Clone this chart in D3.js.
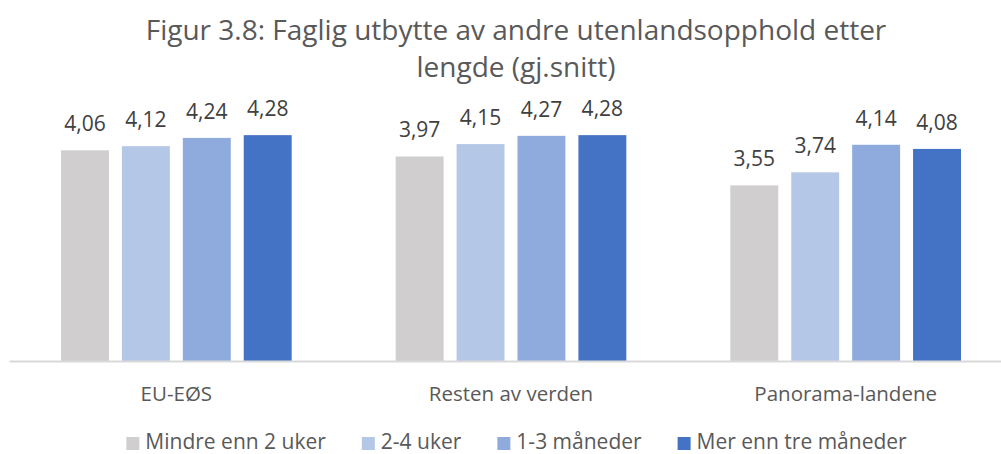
<!DOCTYPE html>
<html>
<head>
<meta charset="utf-8">
<script src="https://cdn.jsdelivr.net/npm/d3@7"></script>
<style>
  body { margin: 0; background: #fff; }
  text { font-family: "Open Sans", "Noto Sans", sans-serif; }
</style>
</head>
<body>
<div id="chart"></div>
<script>
const width = 1001;
const height = 454;

// data
const categories = ["EU-EØS", "Resten av verden", "Panorama-landene"];
const seriesNames = ["Mindre enn 2 uker", "2-4 uker", "1-3 måneder", "Mer enn tre måneder"];
const colors = ["#d0cece", "#b4c7e7", "#8faadc", "#4472c4"];
const mindre2 = [4.06, 3.97, 3.55];
const uker24 = [4.12, 4.15, 3.74];
const mnd13 = [4.24, 4.27, 4.14];
const merTre = [4.28, 4.28, 4.08];
const series = [mindre2, uker24, mnd13, merTre];

const titleLines = ["Figur 3.8: Faglig utbytte av andre utenlandsopphold etter", "lengde (gj.snitt)"];

const svg = d3.select("#chart")
    .append("svg")
    .attr("width", width)
    .attr("height", height);

const baseline = 361;

const x0 = d3.scaleBand()
    .domain(categories)
    .range([9, 1013])
    .paddingInner(0)
    .paddingOuter(0);

// bars inside a group: width 48, pitch 61
const x1 = d3.scaleBand()
    .domain(d3.range(seriesNames.length))
    .range([52, x0.bandwidth() - 52])
    .paddingInner(13 / 61);

const y = d3.scaleLinear()
    .domain([1, 4.5])
    .range([baseline, 120]);

// title
svg.selectAll(".title")
    .data(titleLines)
    .enter().append("text")
    .attr("x", 516)
    .attr("y", (d, i) => 40 + i * 37)
    .attr("text-anchor", "middle")
    .style("font-size", "28px")
    .style("fill", "#595959")
    .text(d => d);

// bars
const groups = svg.selectAll(".grp")
    .data(categories)
    .enter().append("g")
    .attr("transform", d => `translate(${x0(d)},0)`);

series.forEach((vals, s) => {
    groups.append("rect")
        .attr("x", x1(s))
        .attr("y", (d, i) => y(vals[i]))
        .attr("width", x1.bandwidth())
        .attr("height", (d, i) => baseline - y(vals[i]))
        .attr("fill", colors[s]);

    groups.append("text")
        .attr("x", x1(s) + x1.bandwidth() / 2)
        .attr("y", (d, i) => y(vals[i]) - 19)
        .attr("text-anchor", "middle")
        .style("font-size", "21px")
        .style("fill", "#404040")
        .text((d, i) => d3.format(".2f")(vals[i]).replace(".", ","));
});

// x axis
const xAxis = svg.append("g")
    .attr("transform", `translate(0,${baseline})`)
    .call(d3.axisBottom(x0).tickSize(0));
xAxis.select(".domain").attr("stroke", "#d9d9d9").attr("stroke-width", 2);
xAxis.selectAll("text")
    .attr("y", 40)
    .attr("dy", 0)
    .style("font-family", "\"Open Sans\", \"Noto Sans\", sans-serif")
    .style("font-size", "20.5px")
    .style("fill", "#595959");

// legend
const legend = svg.append("g");
let lx = 0;
seriesNames.forEach((name, i) => {
    const item = legend.append("g").attr("transform", `translate(${lx},0)`);
    item.append("rect")
        .attr("x", 0).attr("y", -12)
        .attr("width", 13).attr("height", 13)
        .attr("fill", colors[i]);
    const t = item.append("text")
        .attr("x", 19).attr("y", 0)
        .style("font-size", "21px")
        .style("fill", "#595959")
        .text(name);
    lx += 19 + t.node().getComputedTextLength() + 36;
});
const lw = lx - 36;
legend.attr("transform", `translate(${(127 + 906) / 2 - lw / 2},449)`);
</script>
</body>
</html>
